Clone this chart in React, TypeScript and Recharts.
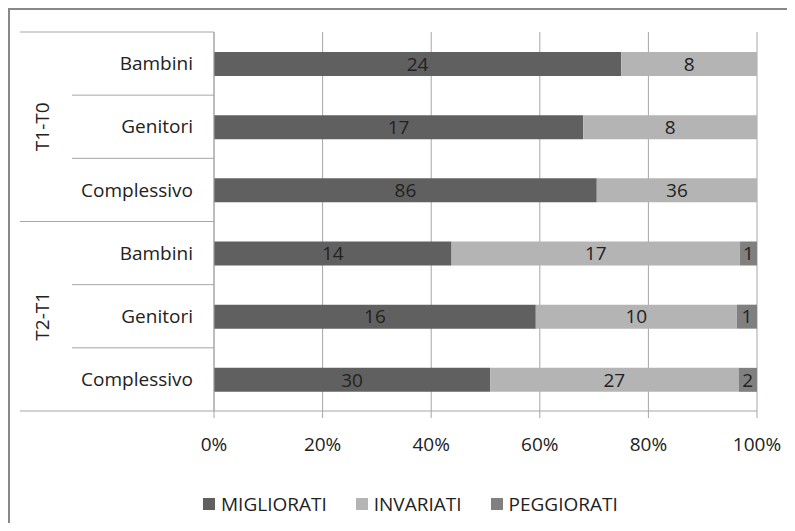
import { Bar, BarChart, CartesianGrid, LabelList, Legend, XAxis, YAxis } from 'recharts';

const categories = ['Bambini', 'Genitori', 'Complessivo', 'Bambini', 'Genitori', 'Complessivo'];
const groups = ['T1-T0', 'T2-T1'];
const migliorati = [24, 17, 86, 14, 16, 30];
const invariati = [8, 8, 36, 17, 10, 27];
const peggiorati = [0, 0, 0, 1, 1, 2];
const xTicks = [0, 0.2, 0.4, 0.6, 0.8, 1];

const seriesNames = ['MIGLIORATI', 'INVARIATI', 'PEGGIORATI'];
const seriesColors = ['#606060', '#b4b4b4', '#808080'];

const data = categories.map((name, i) => ({
  id: `r${i}`,
  name,
  group: groups[Math.floor(i / 3)],
  migliorati: migliorati[i],
  invariati: invariati[i],
  peggiorati: peggiorati[i],
}));

const FONT = '"Open Sans", sans-serif';
const GRID = '#a6a6a6';
const TEXT = '#222';
const PLOT_TOP = 22;
const PLOT_BOTTOM = 401;
const ROW = (PLOT_BOTTOM - PLOT_TOP) / categories.length;
const AXIS_X = 204;

function CategoryTick(props: any) {
  const { y, payload } = props;
  const idx = data.findIndex((d) => d.id === payload.value);
  const row = data[idx];
  const top = y - ROW / 2;
  const first = idx % 3 === 0;
  return (
    <g>
      <line x1={first ? 10 : 62} x2={AXIS_X} y1={top} y2={top} stroke={GRID} />
      {idx === data.length - 1 && (
        <line x1={10} x2={AXIS_X} y1={y + ROW / 2} y2={y + ROW / 2} stroke={GRID} />
      )}
      <text x={183} y={y} dy="0.35em" textAnchor="end" fill={TEXT} fontSize={19} fontFamily={FONT}>
        {row.name}
      </text>
      {idx % 3 === 1 && (
        <text
          x={32}
          y={y}
          dy="0.35em"
          textAnchor="middle"
          fill={TEXT}
          fontSize={19}
          fontFamily={FONT}
          transform={`rotate(-90 32 ${y})`}
        >
          {row.group}
        </text>
      )}
    </g>
  );
}

function LegendBox() {
  return (
    <div
      style={{
        height: 62,
        boxSizing: 'border-box',
        paddingTop: 24,
        paddingLeft: 193,
        display: 'flex',
        alignItems: 'center',
        fontFamily: FONT,
        fontSize: 19,
        color: TEXT,
      }}
    >
      {seriesNames.map((n, i) => (
        <div key={n} style={{ display: 'flex', alignItems: 'center', marginRight: 29 }}>
          <span style={{ width: 12, height: 12, background: seriesColors[i], marginRight: 6 }} />
          <span>{n}</span>
        </div>
      ))}
    </div>
  );
}

const pct = (v: number) => `${Math.round(v * 100)}%`;
const hideZero = (v: any) => (v ? v : '');

export default function App() {
  return (
    <div
      style={{
        width: 779,
        height: 515,
        boxSizing: 'border-box',
        borderTop: '2px solid #888',
        borderLeft: '2px solid #888',
        background: '#fff',
        fontFamily: FONT,
      }}
    >
      <BarChart
        width={777}
        height={513}
        data={data}
        layout="vertical"
        stackOffset="expand"
        barSize={24}
        margin={{ top: PLOT_TOP, right: 30, left: 0, bottom: 0 }}
      >
        <CartesianGrid horizontal={false} stroke={GRID} />
        <XAxis
          type="number"
          domain={[0, 1]}
          ticks={xTicks}
          tickFormatter={pct}
          height={50}
          tickSize={7}
          tickMargin={20}
          stroke={GRID}
          tick={{ fill: TEXT, fontSize: 19, fontFamily: FONT }}
        />
        <YAxis
          type="category"
          dataKey="id"
          width={AXIS_X}
          stroke={GRID}
          tickLine={false}
          tick={<CategoryTick />}
          interval={0}
        />
        <Legend height={62} verticalAlign="bottom" content={<LegendBox />} wrapperStyle={{ left: 0, width: 777 }} />
        <Bar dataKey="migliorati" stackId="a" fill={seriesColors[0]} isAnimationActive={false}>
          <LabelList dataKey="migliorati" position="center" fill={TEXT} fontSize={19} fontFamily={FONT} formatter={hideZero} />
        </Bar>
        <Bar dataKey="invariati" stackId="a" fill={seriesColors[1]} isAnimationActive={false}>
          <LabelList dataKey="invariati" position="center" fill={TEXT} fontSize={19} fontFamily={FONT} formatter={hideZero} />
        </Bar>
        <Bar dataKey="peggiorati" stackId="a" fill={seriesColors[2]} isAnimationActive={false}>
          <LabelList dataKey="peggiorati" position="center" fill={TEXT} fontSize={19} fontFamily={FONT} formatter={hideZero} />
        </Bar>
      </BarChart>
    </div>
  );
}
